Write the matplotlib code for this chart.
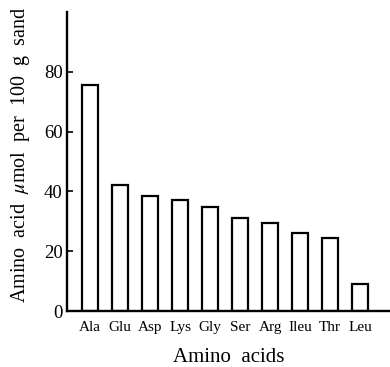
import matplotlib
matplotlib.use("Agg")
import matplotlib.pyplot as plt

categories = ["Ala", "Glu", "Asp", "Lys", "Gly", "Ser", "Arg", "Ileu", "Thr", "Leu"]
values = [75.7, 42.0, 38.3, 37.0, 34.7, 31.0, 29.3, 26.0, 24.3, 9.0]
yticks = [0, 20, 40, 60, 80]

plt.rcParams['font.family'] = ['Liberation Serif', 'DejaVu Serif']
plt.rcParams['mathtext.fontset'] = 'stix'

fig = plt.figure(figsize=(3.9, 3.67), dpi=100)
ax = fig.add_axes([67/390, 56/367, 323/390, 299/367])

x = list(range(len(categories)))
ax.bar(x, values, width=0.53, facecolor='white', edgecolor='black', linewidth=1.6)

ax.set_xlim(-0.77, 10)
ax.set_ylim(0, 100)
for s in ['top', 'right']:
    ax.spines[s].set_visible(False)
for s in ['left', 'bottom']:
    ax.spines[s].set_linewidth(1.7)

ax.set_yticks(yticks)
ax.set_yticklabels([str(v) for v in yticks], fontsize=13.5)
ax.tick_params(axis='y', direction='in', length=4, width=1.2, pad=3)
ax.set_xticks(x)
ax.set_xticklabels(categories, fontsize=11)
ax.tick_params(axis='x', length=0, pad=7)

ax.set_xlabel("Amino  acids", fontsize=15)
ax.xaxis.set_label_coords((229-67)/323, (311-358)/299)
ax.xaxis.label.set_va('center')

ax.set_ylabel(r"Amino  acid  $\mu$mol  per  100  g  sand", fontsize=14.5)
ax.yaxis.set_label_coords((20-67)/323, (311-155)/299)
ax.yaxis.label.set_va('center')

fig.savefig("out.png", dpi=100, facecolor='white')
